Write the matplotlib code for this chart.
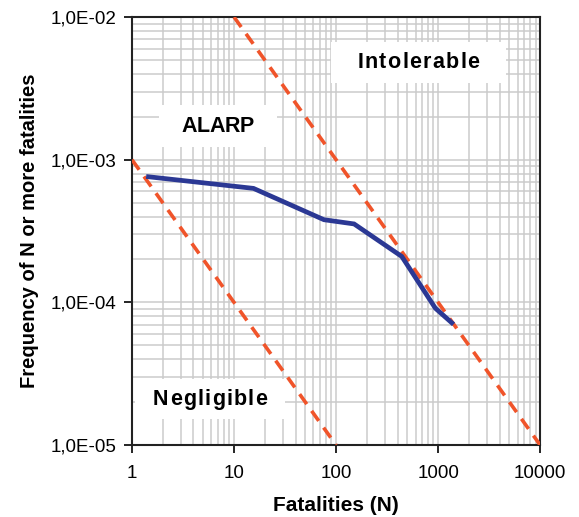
import matplotlib
matplotlib.use("Agg")
import matplotlib.pyplot as plt
import matplotlib.transforms as mtransforms
from matplotlib.patches import Rectangle
import numpy as np
from matplotlib.ticker import FixedLocator, LogLocator, NullFormatter

plt.rcParams['font.family'] = ['Liberation Sans', 'DejaVu Sans']

# FN curve data
fatalities = [1.45, 15.5, 76, 150, 440, 940, 1360]
frequency = [7.6e-4, 6.3e-4, 3.8e-4, 3.55e-4, 2.1e-4, 9.1e-5, 7.2e-5]

# Criterion lines (slope -1)
upper_x = [10, 10000]
upper_y = [1e-2, 1e-5]
lower_x = [1, 100]
lower_y = [1e-3, 1e-5]

xticks = [1, 10, 100, 1000, 10000]
xticklabels = ["1", "10", "100", "1000", "10000"]
yticks = [1e-5, 1e-4, 1e-3, 1e-2]
yticklabels = ["1,0E-05", "1,0E-04", "1,0E-03", "1,0E-02"]

regions = ["Intolerable", "ALARP", "Negligible"]
region_x = [640, 6.9, 5.8]
region_y = [10**-2.315, 10**-2.764, 10**-4.68]
region_spacing = [1.3, -0.4, 1.2]   # extra letter spacing, pixels
region_box_w = [175, 118, 150]     # pixels
region_box_h = [41, 42, 40]

DPI = 100
fig = plt.figure(figsize=(5.79, 5.17), dpi=DPI)
ax = fig.add_axes([0.228, 0.139, 0.705, 0.828])
ax.set_xscale('log')
ax.set_yscale('log')
ax.set_xlim(1, 10000)
ax.set_ylim(1e-5, 1e-2)

ax.xaxis.set_major_locator(FixedLocator(xticks))
ax.set_xticklabels(xticklabels)
ax.yaxis.set_major_locator(FixedLocator(yticks))
ax.set_yticklabels(yticklabels)
ax.xaxis.set_minor_locator(LogLocator(base=10, subs=np.arange(2, 10)))
ax.yaxis.set_minor_locator(LogLocator(base=10, subs=np.arange(2, 10)))
ax.xaxis.set_minor_formatter(NullFormatter())
ax.yaxis.set_minor_formatter(NullFormatter())
ax.tick_params(which='minor', length=0)
ax.tick_params(which='major', length=5.5, width=1.2, labelsize=13.5, direction='out')
ax.tick_params(axis='x', which='major', pad=9)
ax.tick_params(axis='y', which='major', pad=6)

ax.grid(True, which='both', color='#cbcbcb', linewidth=1.1)
ax.set_axisbelow(True)
for s in ax.spines.values():
    s.set_linewidth(1.5)
    s.set_color('#222222')

dash = (0, (3.4, 2.3))
ax.plot(upper_x, upper_y, color='#f0542a', linewidth=2.6, linestyle=dash, zorder=3)
ax.plot(lower_x, lower_y, color='#f0542a', linewidth=2.6, linestyle=dash, zorder=3)
ax.plot(fatalities, frequency, color='#2b3894', linewidth=3.4, solid_joinstyle='miter', zorder=4)

renderer = fig.canvas.get_renderer()
fs = 15.5
for label, x, y, sp, bw, bh in zip(regions, region_x, region_y, region_spacing,
                                   region_box_w, region_box_h):
    # white background box (size in pixels, centred on data point)
    tr = fig.dpi_scale_trans + mtransforms.ScaledTranslation(x, y, ax.transData)
    ax.add_patch(Rectangle((-bw / 2 / DPI, -bh / 2 / DPI), bw / DPI, bh / DPI,
                           transform=tr, facecolor='white', edgecolor='none', zorder=5))
    widths = []
    for ch in label:
        t = ax.text(0, 0, ch, fontsize=fs, fontweight='bold')
        widths.append(t.get_window_extent(renderer).width)
        t.remove()
    total = sum(widths) + sp * (len(label) - 1)
    off = -total / 2
    for ch, w in zip(label, widths):
        ctr = mtransforms.offset_copy(ax.transData, fig=fig, x=off * 72 / DPI, y=0, units='points')
        ax.text(x, y, ch, transform=ctr, ha='left', va='center', fontsize=fs,
                fontweight='bold', zorder=6)
        off += w + sp

ax.set_xlabel("Fatalities (N)", fontsize=15, fontweight='bold', labelpad=10)
ax.set_ylabel("Frequency of N or more fatalities", fontsize=14.5, fontweight='bold', labelpad=8)

fig.savefig("out.png", dpi=DPI)
